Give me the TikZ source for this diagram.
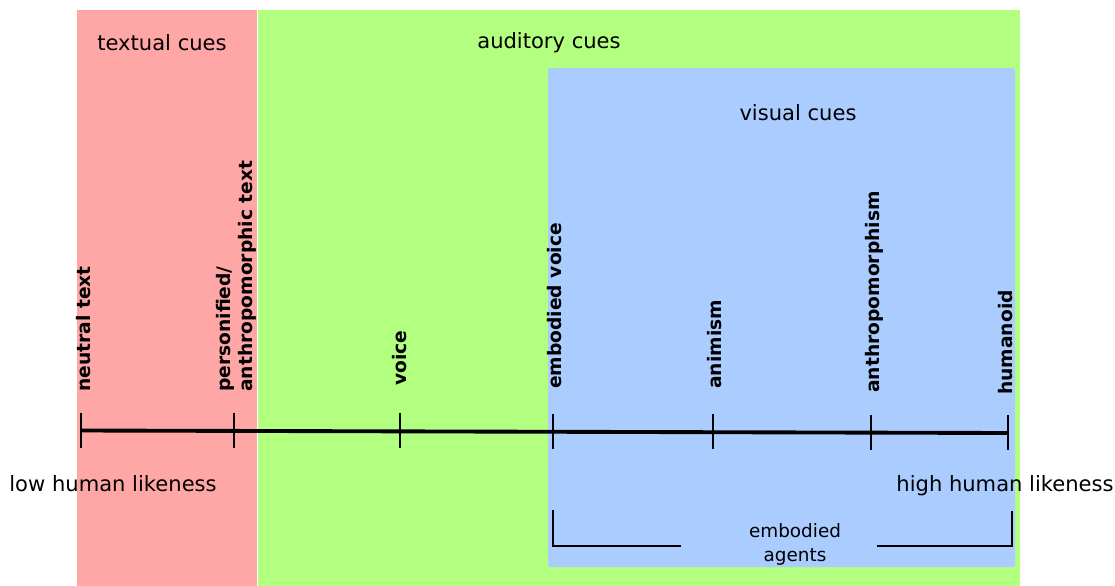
\documentclass[tikz,border=0pt]{standalone}
\usepackage{fontspec}
\setmainfont{DejaVu Sans}
\definecolor{textred}{HTML}{FFA6A6}
\definecolor{audgreen}{HTML}{B3FF80}
\definecolor{visblue}{HTML}{AACCFF}
\begin{document}
\begin{tikzpicture}[x=0.75pt,y=-0.75pt,
  cue/.style={inner sep=0pt,font=\fontsize{15.8}{19}\selectfont},
  stage/.style={rotate=90,anchor=west,inner sep=0pt,align=left,
    font=\bfseries\fontsize{14}{16.5}\selectfont},
  axline/.style={line width=2.9pt},
  axtick/.style={line width=2.2pt}]
\useasboundingbox (0,0) rectangle (1115,586);
% cue areas
\fill[textred] (77,10) rectangle (257,586);
\fill[audgreen] (258,10) rectangle (1020,586);
\fill[visblue, rounded corners=2pt] (548,68) rectangle (1015,567);
\node[cue] (textual) at (162,43) {textual cues};
\node[cue] (auditory) at (549,43) {auditory cues};
\node[cue] (visual) at (798,113) {visual cues};
% scale
\coordinate (neutral) at (81,430.5);
\coordinate (personified) at (234,431);
\coordinate (voice) at (400,431);
\coordinate (embodied) at (553,431.5);
\coordinate (animism) at (713,432);
\coordinate (anthropo) at (871,432.5);
\coordinate (humanoid) at (1008,433);
\draw[axline] (neutral) -- (humanoid);
\foreach \t in {neutral,personified,voice,embodied,animism,anthropo,humanoid}
  \draw[axtick] (\t) ++(0,-18) -- ++(0,35);
\node[stage] (neutrallab) at (84,392) {neutral text};
\node[stage] (personifiedlab) at (236,392) {personified/\\anthropomorphic text};
\node[stage] (voicelab) at (400,386) {voice};
\node[stage] (embodiedlab) at (555,389) {embodied voice};
\node[stage] (animismlab) at (715,389) {animism};
\node[stage] (anthropolab) at (874,393) {anthropomorphism};
\node[stage] (humanoidlab) at (1006,395) {humanoid};
\node[cue] (low) at (113,484) {low human likeness};
\node[cue] (high) at (1005,486) {high human likeness};
% embodied agents
\coordinate (eaA) at (553,510);
\coordinate (eaB) at (681,546);
\coordinate (eaC) at (877,546);
\coordinate (eaD) at (1012,511);
\draw[axtick] (eaA) |- (eaB);
\draw[axtick] (eaC) -| (eaD);
\node[inner sep=0pt,align=center,font=\fontsize{13.8}{18}\selectfont] (agents) at (795,544) {embodied\\agents};
\end{tikzpicture}
\end{document}
